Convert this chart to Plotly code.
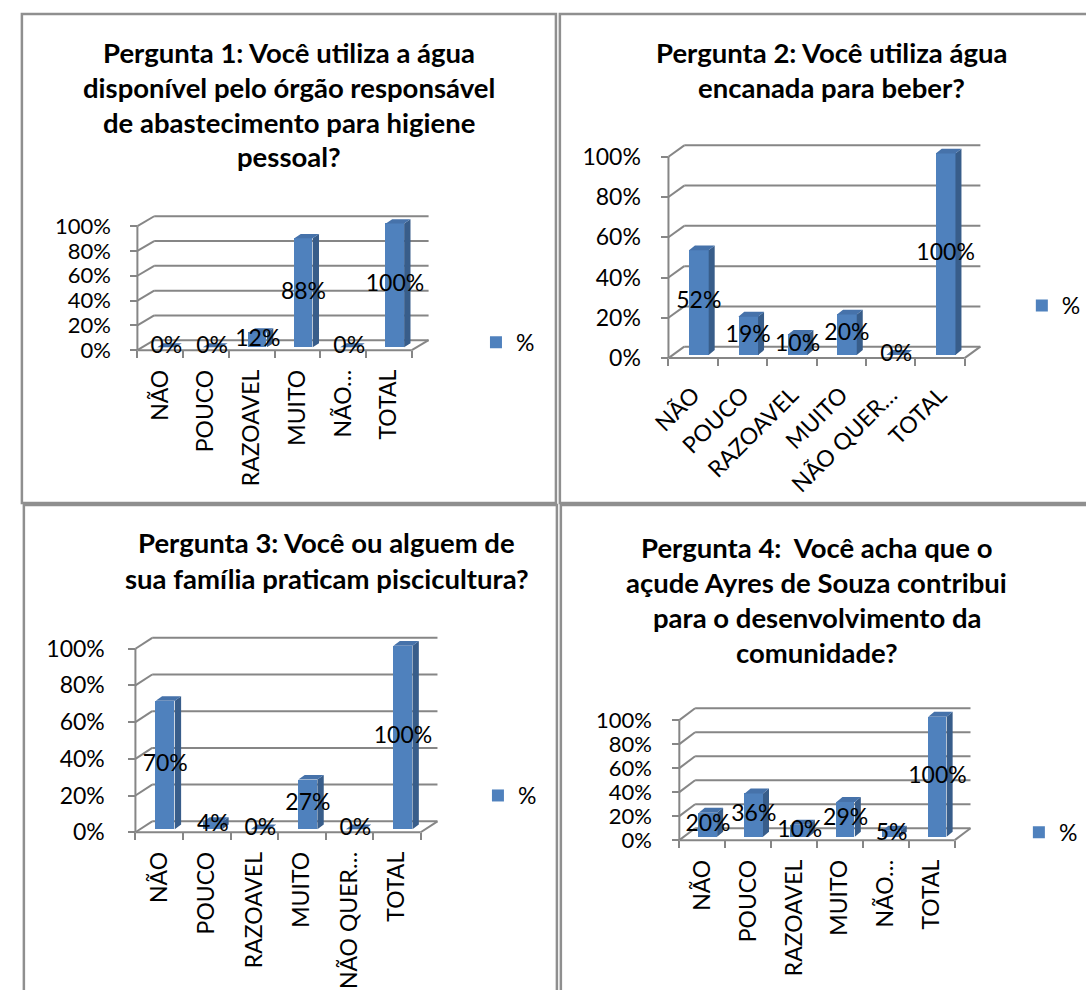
import plotly.graph_objects as go

W, H = 1086, 990
FONT = "Lato"
GRID = "#868686"
FRONT = "#4F81BD"
SIDE = "#385D8A"
TOP = "#4672AA"
BORDER = "#8f8f8f"

# ---------------- data ----------------
categories_p1 = ["NÃO", "POUCO", "RAZOAVEL", "MUITO", "NÃO…", "TOTAL"]
categories_p2 = ["NÃO", "POUCO", "RAZOAVEL", "MUITO", "NÃO QUER…", "TOTAL"]
categories_p3 = ["NÃO", "POUCO", "RAZOAVEL", "MUITO", "NÃO QUER…", "TOTAL"]
categories_p4 = ["NÃO", "POUCO", "RAZOAVEL", "MUITO", "NÃO…", "TOTAL"]

values_p1 = [0.00, 0.00, 0.12, 0.88, 0.00, 1.00]
values_p2 = [0.52, 0.19, 0.10, 0.20, 0.00, 1.00]
values_p3 = [0.70, 0.04, 0.00, 0.27, 0.00, 1.00]
values_p4 = [0.20, 0.36, 0.10, 0.29, 0.05, 1.00]

titles_p1 = ["Pergunta 1: Você utiliza a água", "disponível pelo órgão responsável",
             "de abastecimento para higiene", "pessoal?"]
titles_p2 = ["Pergunta 2: Você utiliza água", "encanada para beber?"]
titles_p3 = ["Pergunta 3: Você ou alguem de", "sua família praticam piscicultura?"]
titles_p4 = ["Pergunta 4:  Você acha que o", "açude Ayres de Souza contribui",
             "para o desenvolvimento da", "comunidade?"]

ytick_values = [0.0, 0.2, 0.4, 0.6, 0.8, 1.0]
ytick_labels = ["0%", "20%", "40%", "60%", "80%", "100%"]
series_name = "%"

# ---------------- layout geometry (pixels) ----------------
geom_p1 = dict(xl=125, xr=403, y0=353, y1=228, dx=17, dy=10, angle=-90,
               tcx=279, tys=[53, 88, 123, 158], lgx=482, lgy=345,
               yfs=22, ystand=15, xstand=14)
geom_p2 = dict(xl=663, xr=963, y0=361, y1=158, dx=16, dy=11.5, angle=-45,
               tcx=828, tys=[53, 88], lgx=1035, lgy=308,
               yfs=23, ystand=16, xstand=18)
geom_p3 = dict(xl=123, xr=412, y0=839, y1=654, dx=17, dy=11, angle=-90,
               tcx=317, tys=[547, 583], lgx=484, lgy=802,
               yfs=23, ystand=19, xstand=14)
geom_p4 = dict(xl=674, xr=953, y0=847, y1=726, dx=16, dy=12, angle=-90,
               tcx=813, tys=[552, 587, 623, 658], lgx=1032, lgy=839,
               yfs=22, ystand=16, xstand=14)

fig = go.Figure()
layout_axes = {}
shapes = []
annotations = []
legends = {}


def add_panel(k, cats, vals, titles, g):
    xl, xr, y0, y1, dx, dy = g["xl"], g["xr"], g["y0"], g["y1"], g["dx"], g["dy"]
    n = len(cats)
    xu = (xr - xl) / n
    yu = float(y0 - y1)
    ddx, ddy = dx / xu, dy / yu
    pad = 5
    left_px, right_px = xl - pad, xr + dx + pad
    top_px, bot_px = y1 - dy - pad - 3, y0 + pad
    xrange_ = [-0.5 - pad / xu, -0.5 + (right_px - xl) / xu]
    yrange_ = [-pad / yu, (y0 - top_px) / yu]
    xr_name = "x" if k == 1 else f"x{k}"
    yr_name = "y" if k == 1 else f"y{k}"
    lg_name = "legend" if k == 1 else f"legend{k}"
    idx = list(range(n))

    sx = 0.36 * ddx
    by = 0.28 * ddy
    bw = 0.40
    fdx, fdy = 0.38 * ddx, 0.42 * ddy

    fig.add_trace(go.Bar(
        x=[i + sx for i in idx], y=vals, base=by, width=bw,
        marker=dict(color=FRONT, line=dict(width=0)),
        name=series_name, legend=lg_name, showlegend=True,
        xaxis=xr_name, yaxis=yr_name, hoverinfo="skip"))

    side_x, side_y, top_x, top_y = [], [], [], []
    for i, v in zip(idx, vals):
        a = i + sx - bw / 2
        b = i + sx + bw / 2
        side_x += [b, b + fdx, b + fdx, b, b, None]
        side_y += [by, by + fdy, by + v + fdy, by + v, by, None]
        top_x += [a, b, b + fdx, a + fdx, a, None]
        top_y += [by + v, by + v, by + v + fdy, by + v + fdy, by + v, None]
    fig.add_trace(go.Scatter(x=side_x, y=side_y, mode="lines", fill="toself",
                             fillcolor=SIDE, line=dict(width=0), showlegend=False,
                             xaxis=xr_name, yaxis=yr_name, hoverinfo="skip"))
    fig.add_trace(go.Scatter(x=top_x, y=top_y, mode="lines", fill="toself",
                             fillcolor=TOP, line=dict(width=0), showlegend=False,
                             xaxis=xr_name, yaxis=yr_name, hoverinfo="skip"))
    fig.add_trace(go.Scatter(
        x=[i + sx for i in idx], y=[by + v / 2 for v in vals],
        text=[f"{round(v * 100)}%" for v in vals], mode="text",
        textposition="middle center", cliponaxis=False,
        textfont=dict(family=FONT, size=23, color="black"),
        showlegend=False, xaxis=xr_name, yaxis=yr_name, hoverinfo="skip"))

    # back wall / floor lines
    line = dict(color=GRID, width=2)

    def seg(xa, ya, xb, yb):
        shapes.append(dict(type="line", xref=xr_name, yref=yr_name, x0=xa, y0=ya,
                           x1=xb, y1=yb, line=line, layer="below"))
    for v in ytick_values:
        seg(-0.5, v, -0.5 + ddx, v + ddy)
        seg(-0.5 + ddx, v + ddy, n - 0.5 + ddx, v + ddy)
    seg(-0.5, 0, -0.5, ytick_values[-1])
    seg(-0.5, 0, n - 0.5, 0)
    seg(n - 0.5, 0, n - 0.5 + ddx, ddy)

    xa_key = "xaxis" if k == 1 else f"xaxis{k}"
    ya_key = "yaxis" if k == 1 else f"yaxis{k}"
    layout_axes[xa_key] = dict(
        domain=[left_px / W, right_px / W], range=xrange_, anchor="free",
        position=1 - y0 / H, tickmode="array", tickvals=idx, ticktext=cats,
        ticks="", tickangle=g["angle"], showline=False, showgrid=False,
        zeroline=False, tickfont=dict(family=FONT, size=23, color="black"),
        ticklabelstandoff=g["xstand"],
        minor=dict(tickmode="array", tickvals=[i - 0.5 for i in range(n + 1)],
                   ticks="outside", ticklen=7, tickcolor=GRID, tickwidth=2),
        fixedrange=True)
    layout_axes[ya_key] = dict(
        domain=[1 - bot_px / H, 1 - top_px / H], range=yrange_, anchor="free",
        position=xl / W, tickmode="array", tickvals=ytick_values,
        ticktext=ytick_labels, ticks="outside", ticklen=7, tickcolor=GRID,
        tickwidth=2, showline=False, showgrid=False, zeroline=False,
        tickfont=dict(family=FONT, size=g["yfs"], color="black"),
        ticklabelstandoff=g["ystand"], fixedrange=True)

    for t, ty in zip(titles, g["tys"]):
        annotations.append(dict(text=t, x=g["tcx"] / W, y=1 - ty / H, xref="paper",
                                yref="paper", xanchor="center", yanchor="middle",
                                showarrow=False,
                                font=dict(family=FONT, size=27.5, color="black",
                                          weight="bold")))
    legends[lg_name] = dict(x=(g["lgx"] - 14) / W, y=1 - g["lgy"] / H,
                            xanchor="left", yanchor="middle",
                            font=dict(family=FONT, size=23, color="black"),
                            bgcolor="rgba(0,0,0,0)", borderwidth=0,
                            itemclick=False, itemdoubleclick=False)


add_panel(1, categories_p1, values_p1, titles_p1, geom_p1)
add_panel(2, categories_p2, values_p2, titles_p2, geom_p2)
add_panel(3, categories_p3, values_p3, titles_p3, geom_p3)
add_panel(4, categories_p4, values_p4, titles_p4, geom_p4)

# panel frames
for (x0, y0, x1, y1) in [(8, 14, 549, 507), (553, 14, 1100, 507),
                         (10, 509, 550, 1000), (554, 509, 1100, 1000)]:
    shapes.append(dict(type="rect", xref="paper", yref="paper",
                       x0=x0 / W, x1=x1 / W, y0=1 - y0 / H, y1=1 - y1 / H,
                       line=dict(color=BORDER, width=2.5), fillcolor="rgba(0,0,0,0)",
                       layer="above"))

fig.update_layout(width=W, height=H, margin=dict(l=0, r=0, t=0, b=0),
                  paper_bgcolor="white", plot_bgcolor="rgba(0,0,0,0)",
                  shapes=shapes, annotations=annotations, bargap=0,
                  font=dict(family=FONT), **layout_axes, **legends)
fig.write_html("out.html")
